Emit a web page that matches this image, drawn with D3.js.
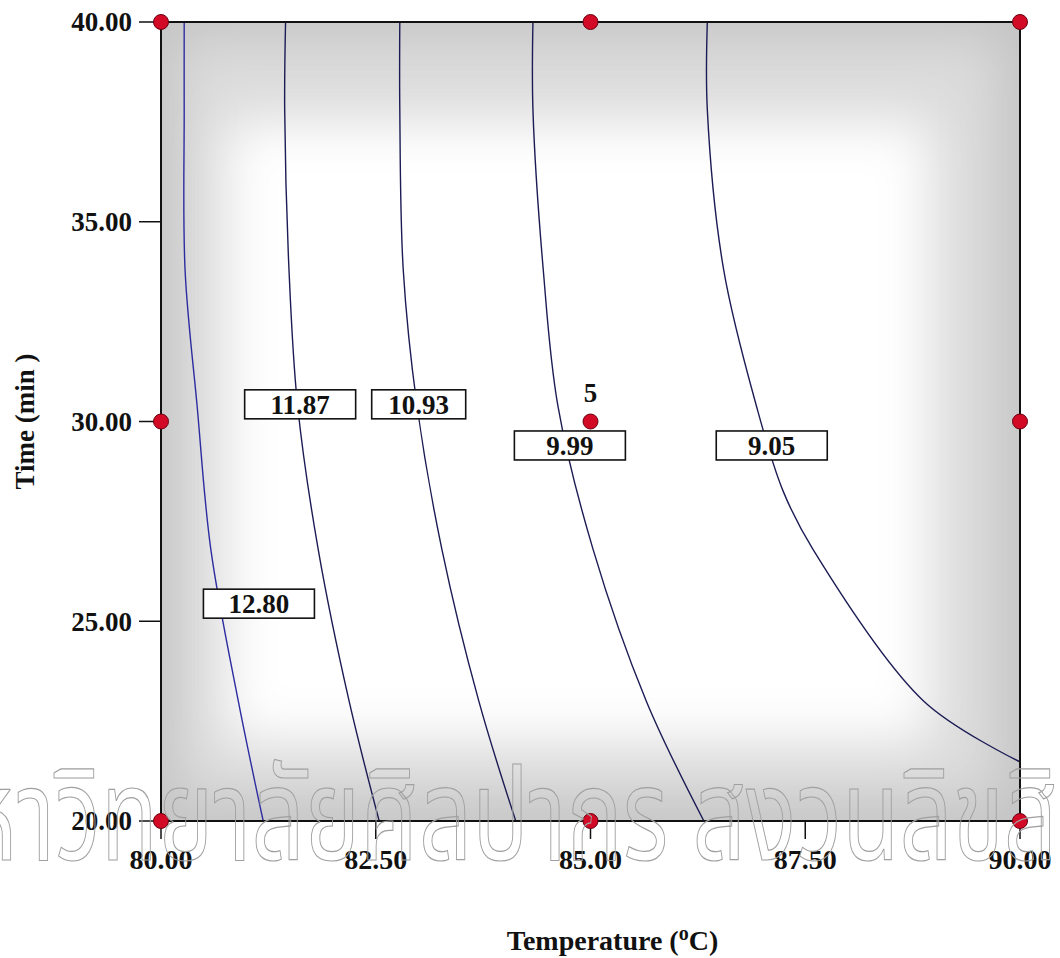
<!DOCTYPE html>
<html><head><meta charset="utf-8">
<script src="https://cdn.jsdelivr.net/npm/d3@7"></script>
<style>
body{margin:0;background:#fff}
svg text{font-family:"Liberation Serif","Times New Roman",serif;font-weight:bold;fill:#111}
</style>
</head><body><svg id="c" width="1060" height="958"></svg>
<script>
// ---- data ----
const xTicks = [80, 82.5, 85, 87.5, 90];
const yTicks = [20, 25, 30, 35, 40];
const levels = ["12.80", "11.87", "10.93", "9.99", "9.05"];
// contour paths as [temperature, time]
const c1280 = [[80.27,40],[80.27,37.8],[80.28,33.8],[80.42,30.4],[80.58,26.8],[80.90,23.0],[81.19,20]];
const c1187 = [[81.45,40],[81.44,37.8],[81.49,33.8],[81.59,30.4],[81.83,26.8],[82.19,23.0],[82.54,20]];
const c1093 = [[82.78,40],[82.78,37.8],[82.82,33.8],[82.98,30.4],[83.27,26.8],[83.70,23.0],[84.13,20]];
const c999  = [[84.33,40],[84.33,37.8],[84.45,33.8],[84.62,30.4],[85.03,26.8],[85.65,23.0],[86.32,20]];
const c905  = [[86.36,40],[86.36,37.8],[86.55,33.8],[86.93,30.4],[87.24,28.27],[87.59,26.8],[88.88,23.0],[90.0,21.48]];
const contours = [c1280, c1187, c1093, c999, c905];
const labelTemp = [81.14, 81.62, 83.00, 84.76, 87.11];
const labelTime = [25.44, 30.43, 30.43, 29.40, 29.40];
const designTemp = [80, 80, 80, 85, 85, 85, 90, 90, 90];
const designTime = [20, 30, 40, 20, 30, 40, 20, 30, 40];
const centerRuns = ["5"];
const watermark = "มหาวิทยาลัยศิลปากร สงวนลิขสิทธิ์";

// ---- layout ----
const L = 161, R = 1020, T = 22, B = 821;
const svg = d3.select("#c");
const x = d3.scaleLinear().domain([80, 90]).range([L, R]);
const y = d3.scaleLinear().domain([20, 40]).range([B, T]);

const defs = svg.append("defs");
defs.append("clipPath").attr("id","plot").append("rect")
  .attr("x",L).attr("y",T).attr("width",R-L).attr("height",B-T);
defs.append("filter").attr("id","blur").attr("x","-20%").attr("y","-20%").attr("width","140%").attr("height","140%")
  .append("feGaussianBlur").attr("stdDeviation", 26);

// background vignette
const bg = svg.append("g").attr("clip-path","url(#plot)");
bg.append("rect").attr("x",L).attr("y",T).attr("width",R-L).attr("height",B-T).attr("fill","#c4c4c4");
bg.append("rect").attr("x",L+15).attr("y",T+15).attr("width",(R-L)-35).attr("height",(B-T)-35)
  .attr("fill","#dcdcdc").attr("filter","url(#blur)");
bg.append("rect").attr("x",L+65).attr("y",T+100).attr("width",(R-L)-155).attr("height",(B-T)-180)
  .attr("fill","#ffffff").attr("filter","url(#blur)");

// contour lines
const line = d3.line().x(d => x(d[0])).y(d => y(d[1])).curve(d3.curveCatmullRom);
const cg = svg.append("g").attr("clip-path","url(#plot)");
contours.forEach((c, i) => {
  cg.append("path").attr("d", line(c)).attr("fill","none")
    .attr("stroke", i === 0 ? "#2c2ca0" : "#1c1c55").attr("stroke-width", 1.4);
});

// frame
svg.append("rect").attr("x",L).attr("y",T).attr("width",R-L).attr("height",B-T)
  .attr("fill","none").attr("stroke","#111").attr("stroke-width",2);

// ticks
svg.append("g").selectAll("line").data(yTicks).join("line")
  .attr("x1", L-22).attr("x2", L).attr("y1", d => y(d)).attr("y2", d => y(d))
  .attr("stroke","#111").attr("stroke-width",1.5);
svg.append("g").selectAll("text").data(yTicks).join("text")
  .attr("x", L-29).attr("y", d => y(d)).attr("dy","0.35em").attr("text-anchor","end")
  .attr("font-size", 27).text(d => d3.format(".2f")(d));
svg.append("g").selectAll("line").data(xTicks).join("line")
  .attr("x1", d => x(d)).attr("x2", d => x(d)).attr("y1", B).attr("y2", B+18)
  .attr("stroke","#111").attr("stroke-width",1.5);
svg.append("g").selectAll("text").data(xTicks).join("text")
  .attr("x", d => x(d)).attr("y", B+48).attr("text-anchor","middle")
  .attr("font-size", 28).text(d => d3.format(".2f")(d));

// contour labels
const lg = svg.append("g");
levels.forEach((lab, i) => {
  const w = lab === "10.93" ? 94 : 111, h = 29;
  const cx = x(labelTemp[i]), cy = y(labelTime[i]);
  lg.append("rect").attr("x", cx - w/2).attr("y", cy - h/2).attr("width", w).attr("height", h)
    .attr("fill","#fff").attr("stroke","#111").attr("stroke-width",1.6);
  lg.append("text").attr("x", cx).attr("y", cy).attr("dy","0.35em").attr("text-anchor","middle")
    .attr("font-size", 27).text(lab);
});

// design points
svg.append("g").selectAll("circle").data(designTemp.map((t,i)=>[t,designTime[i]])).join("circle")
  .attr("cx", d => x(d[0])).attr("cy", d => y(d[1])).attr("r", 7.5)
  .attr("fill","#d20a26").attr("stroke","#6a0010").attr("stroke-width",1);
svg.append("text").attr("x", x(85)).attr("y", y(30) - 20).attr("text-anchor","middle")
  .attr("font-size", 27).text(centerRuns[0]);

// axis titles
svg.append("text").attr("transform", `translate(34,${(T+B)/2}) rotate(-90)`).attr("text-anchor","middle")
  .attr("font-size", 27).text("Time (min )");
const xt = svg.append("text").attr("x", (L+R)/2 + 22).attr("y", 950).attr("text-anchor","middle").attr("font-size", 28);
xt.append("tspan").text("Temperature (");
xt.append("tspan").attr("dy", -10).attr("font-size", 20).text("o");
xt.append("tspan").attr("dy", 10).text("C)");

// watermark
svg.append("text").attr("x", -95).attr("y", 860).attr("font-size", 128)
  .style("font-family", "'Noto Sans Thai','Loma','Garuda','DejaVu Sans',sans-serif").style("font-weight","normal")
  .style("fill","none").attr("stroke","#a0a0a0").attr("stroke-width",1.2)
  .attr("textLength", 1260).attr("lengthAdjust","spacingAndGlyphs")
  .text(watermark);
</script>
</body></html>
